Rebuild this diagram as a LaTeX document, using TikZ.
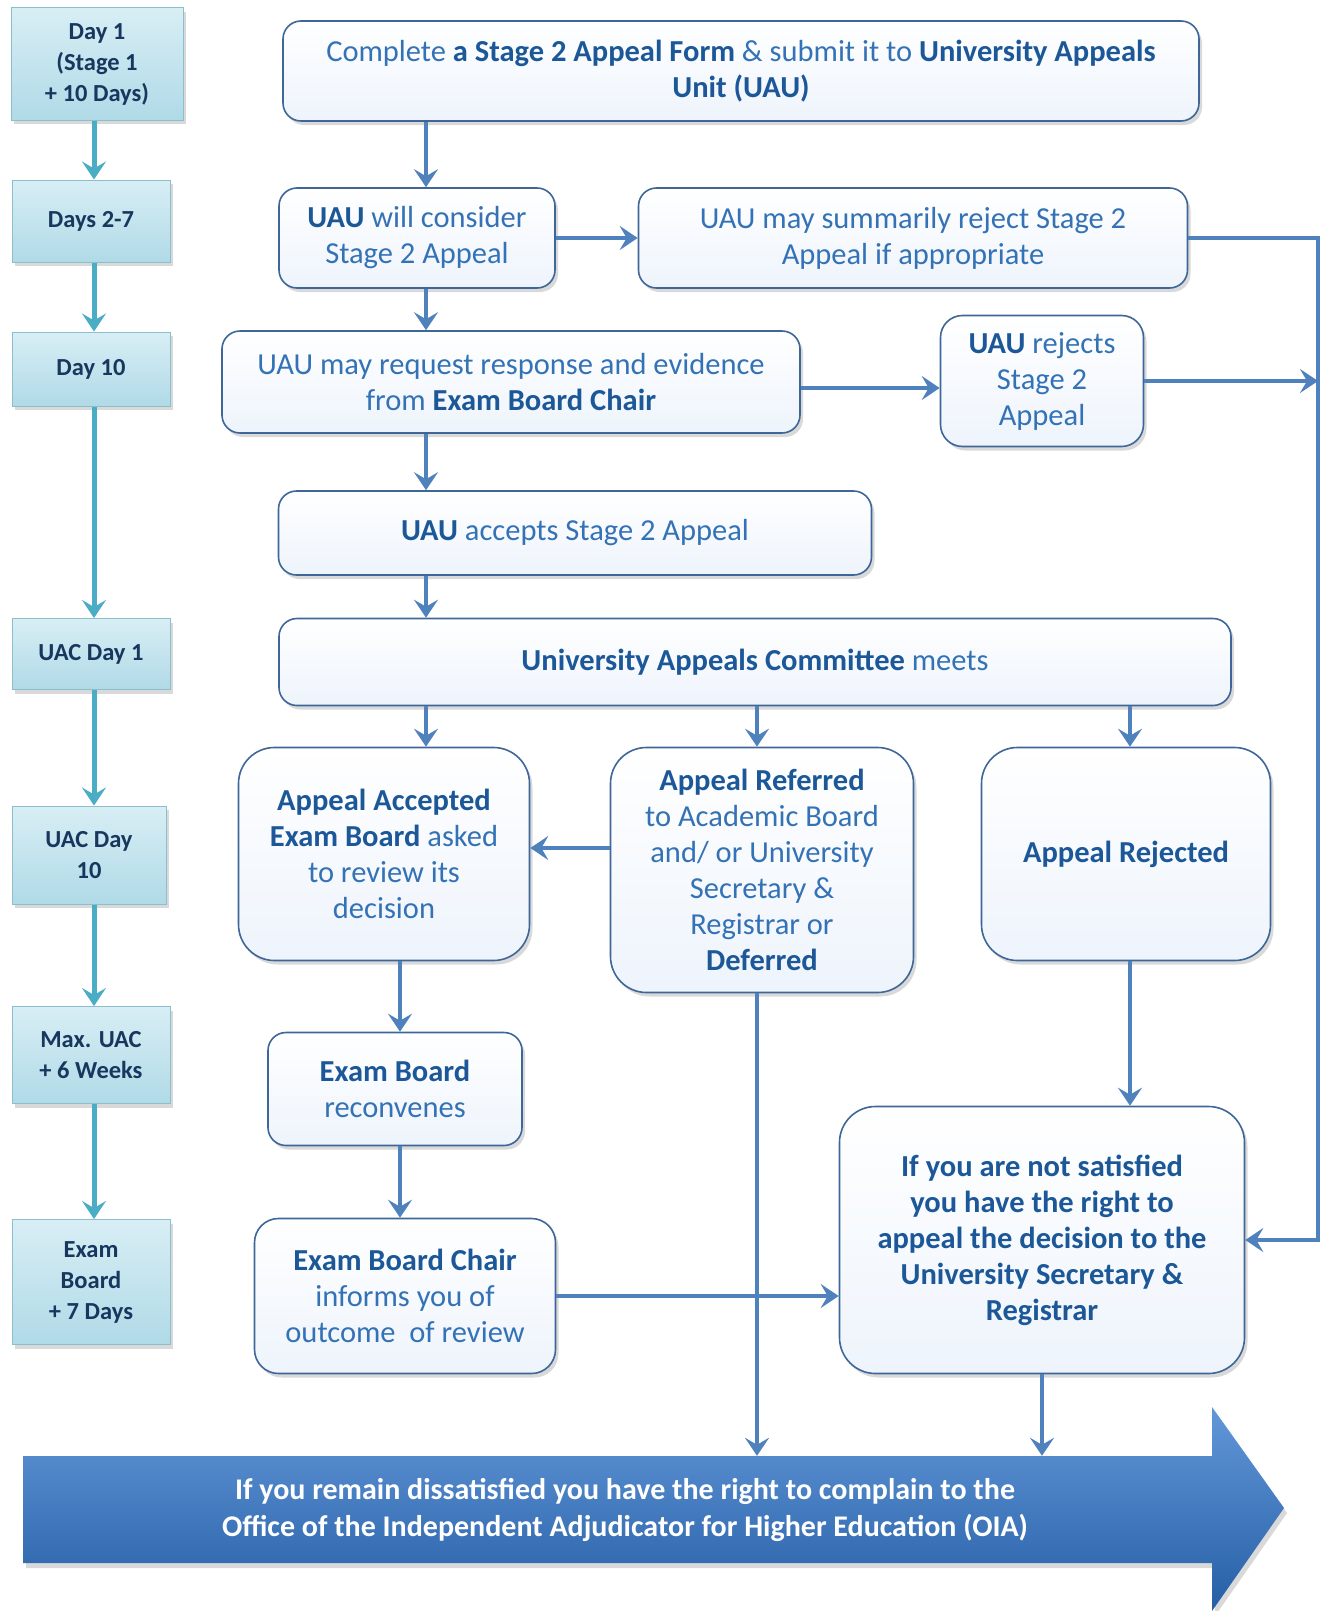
\documentclass[tikz,border=0pt]{standalone}
\usepackage{fontspec}
\setmainfont{Carlito}
\usetikzlibrary{shadows,arrows.meta}

\definecolor{flowblue}{RGB}{79,129,189}
\definecolor{daycyan}{RGB}{75,172,198}
\definecolor{edgeblue}{RGB}{62,102,152}
\definecolor{txtblue}{RGB}{52,114,182}
\definecolor{boldblue}{RGB}{28,88,152}
\definecolor{navy}{RGB}{23,55,94}
\definecolor{dayfill}{RGB}{176,218,231}
\definecolor{daytop}{RGB}{216,238,245}
\definecolor{dayedge}{RGB}{140,190,206}
\definecolor{boxbottom}{RGB}{238,244,252}
\definecolor{oiatop}{RGB}{98,152,216}
\definecolor{oiabottom}{RGB}{38,94,166}

\newcommand{\kw}[1]{{\bfseries\color{boldblue}#1}}

\tikzset{
  box/.style={draw=edgeblue, line width=1.6pt, rounded corners=18pt,
    top color=white, bottom color=boxbottom,
    drop shadow={opacity=0.3, shadow xshift=3pt, shadow yshift=-4pt},
    align=center, text=txtblue, font=\fontsize{30.5}{36}\selectfont},
  bigbox/.style={box, rounded corners=36pt},
  daybox/.style={draw=dayedge, line width=1pt, top color=daytop, bottom color=dayfill,
    drop shadow={opacity=0.3, shadow xshift=3pt, shadow yshift=-4pt},
    align=center, text=navy, font=\bfseries\fontsize{24.5}{31}\selectfont},
  flow/.style={draw=flowblue, line width=4.5pt, -{Stealth[length=18pt,width=24pt,inset=7pt]}},
  dayflow/.style={draw=daycyan, line width=5pt, -{Stealth[length=18pt,width=24pt,inset=7pt]}}
}

\begin{document}
\begin{tikzpicture}[x=1pt,y=-1pt]
  \useasboundingbox (0,0) rectangle (1325,1611);

  % Day column
  \node[daybox, minimum width=172pt, minimum height=112pt] (d1) at (97,64) {Day 1\\(Stage 1\\+ 10 Days)};
  \node[daybox, minimum width=158pt, minimum height=82pt] (d2) at (91,221) {Days 2-7};
  \node[daybox, minimum width=158pt, minimum height=74pt] (d3) at (91,369) {Day 10};
  \node[daybox, minimum width=158pt, minimum height=71pt] (d4) at (91,654) {UAC Day 1};
  \node[daybox, minimum width=154pt, minimum height=98pt] (d5) at (89,855) {UAC Day\\10};
  \node[daybox, minimum width=158pt, minimum height=97pt] (d6) at (91,1055) {Max. UAC\\+ 6 Weeks};
  \node[daybox, minimum width=158pt, minimum height=125pt] (d7) at (91,1282) {Exam\\Board\\+ 7 Days};

  \coordinate (dayx) at (94,0);
  \foreach \a/\b in {d1/d2,d2/d3,d3/d4,d4/d5,d5/d6,d6/d7}
    \draw[dayflow] (\a.south -| dayx) -- (\b.north -| dayx);

  % Main boxes
  \node[box, minimum width=916pt, minimum height=100pt] (form) at (741,71)
    {Complete \kw{a Stage 2 Appeal Form} \& submit it to \kw{University Appeals}\\\kw{Unit (UAU)}};
  \node[box, minimum width=276pt, minimum height=100pt] (consider) at (417,238) {\kw{UAU} will consider\\Stage 2 Appeal};
  \node[box, minimum width=549pt, minimum height=100pt] (summary) at (913,238) {UAU may summarily reject Stage 2\\Appeal if appropriate};
  \node[box, minimum width=578pt, minimum height=102pt] (request) at (511,382) {UAU may request response and evidence\\from \kw{Exam Board Chair}};
  \node[box, rounded corners=22pt, minimum width=203pt, minimum height=131pt] (rejects) at (1042,381) {\kw{UAU} rejects\\Stage 2\\Appeal};
  \node[box, minimum width=593pt, minimum height=84pt] (accepts) at (575,533) {\kw{UAU} accepts Stage 2 Appeal};
  \node[box, minimum width=952pt, minimum height=87pt] (uac) at (755,662) {\kw{University Appeals Committee} meets};
  \node[bigbox, minimum width=291pt, minimum height=213pt] (accepted) at (384,854)
    {\kw{Appeal Accepted}\\\kw{Exam Board} asked\\to review its\\decision};
  \node[bigbox, minimum width=303pt, minimum height=245pt] (referred) at (762,870)
    {\kw{Appeal Referred}\\to Academic Board\\and/ or University\\Secretary \&\\Registrar or\\\kw{Deferred}};
  \node[bigbox, minimum width=289pt, minimum height=213pt] (rejected) at (1126,854) {\kw{Appeal Rejected}};
  \node[box, minimum width=254pt, minimum height=113pt] (reconvene) at (395,1089) {\kw{Exam Board}\\reconvenes};
  \node[box, rounded corners=24pt, minimum width=301pt, minimum height=155pt] (chair) at (405,1296)
    {\kw{Exam Board Chair}\\informs you of\\outcome~ of review};
  \node[bigbox, minimum width=405pt, minimum height=267pt] (satisfied) at (1042,1240)
    {\kw{If you are not satisfied}\\\kw{you have the right to}\\\kw{appeal the decision to the}\\\kw{University Secretary \&}\\\kw{Registrar}};

  % OIA arrow
  \path[top color=oiatop, bottom color=oiabottom, drop shadow={opacity=0.3, shadow xshift=3pt, shadow yshift=-5pt}]
    (23,1456) -- (1212,1456) -- (1212,1407) -- (1284,1508) -- (1212,1611) -- (1212,1563) -- (23,1563) -- cycle;
  \node[minimum width=1189pt, minimum height=107pt, align=center, text=white,
    font=\bfseries\fontsize{30}{37}\selectfont] (oia) at (625,1509.5)
    {If you remain dissatisfied you have the right to complain to the\\Office of the Independent Adjudicator for Higher Education (OIA)};

  % Arrows
  \coordinate (colA) at (426,0);
  \coordinate (colB) at (757,0);
  \coordinate (colC) at (1130,0);
  \coordinate (colD) at (400,0);
  \coordinate (rline) at (1318,0);
  \coordinate (rowR) at (0,388);
  \coordinate (rowA) at (0,848);

  \draw[flow] (form.south -| colA) -- (consider.north -| colA);
  \draw[flow] (consider.east) -- (summary.west);
  \draw[flow] (consider.south -| colA) -- (request.north -| colA);
  \draw[flow] (request.east |- rowR) -- (rejects.west |- rowR);
  \draw[flow] (request.south -| colA) -- (accepts.north -| colA);
  \draw[flow] (accepts.south -| colA) -- (uac.north -| colA);
  \draw[flow] (uac.south -| colA) -- (accepted.north -| colA);
  \draw[flow] (uac.south -| colB) -- (referred.north -| colB);
  \draw[flow] (uac.south -| colC) -- (rejected.north -| colC);
  \draw[flow] (referred.west |- rowA) -- (accepted.east |- rowA);
  \draw[flow] (accepted.south -| colD) -- (reconvene.north -| colD);
  \draw[flow] (reconvene.south -| colD) -- (chair.north -| colD);
  \draw[flow] (chair.east) -- (satisfied.west |- chair.east);
  \draw[flow] (rejected.south -| colC) -- (satisfied.north -| colC);
  \draw[flow] (referred.south -| colB) -- (colB |- oia.north);
  \draw[flow] (satisfied.south) -- (satisfied.south |- oia.north);
  \draw[flow] (summary.east) -- (summary.east -| rline) -- (rline |- satisfied.east) -- (satisfied.east);
  \draw[flow] (rejects.east) -- (rejects.east -| rline);
\end{tikzpicture}
\end{document}
